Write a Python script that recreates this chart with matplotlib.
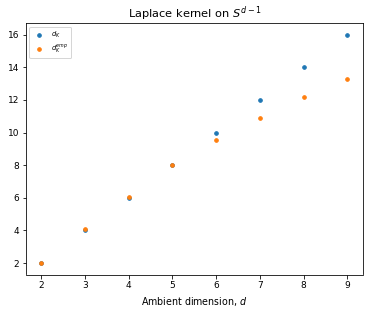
import matplotlib
matplotlib.use('Agg')
import matplotlib.pyplot as plt

# 数据
d = [2, 3, 4, 5, 6, 7, 8, 9]
d_K = [2, 4, 6, 8, 10, 12, 14, 16]
d_K_emp = [2.0, 4.07, 6.07, 8.0, 9.52, 10.92, 12.21, 13.29]

fig = plt.figure(figsize=(370 / 72, 311 / 72), dpi=72)
ax = fig.add_axes([26 / 370, 1 - 274.5 / 311, (362.7 - 26) / 370, (274.5 - 23.3) / 311])
ax.scatter(d, d_K, s=13, label=r'$d_K$')
ax.scatter(d, d_K_emp, s=13, label=r'$d_K^{emp}$')
ax.set_title(r'Laplace kernel on $S^{d-1}$', fontsize=11.4)
ax.set_xlabel('Ambient dimension, $d$', fontsize=9.5)
ax.tick_params(labelsize=9)
ax.legend(fontsize=6.8, loc='upper left')

fig.savefig('out.png', dpi=72)
